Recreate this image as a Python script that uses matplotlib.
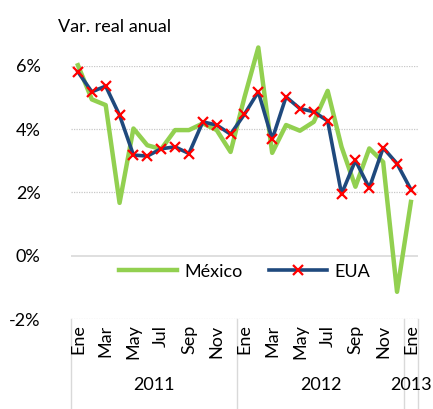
import numpy as np
import matplotlib
matplotlib.use("Agg")
import matplotlib.pyplot as plt
from matplotlib.transforms import blended_transform_factory

plt.rcParams['font.family'] = ['Lato', 'DejaVu Sans']

# Monthly data, Ene 2011 - Ene 2013 (annual real variation, %)
mexico = [6.02, 4.94, 4.76, 1.67, 4.02, 3.49, 3.37, 3.97, 3.97, 4.18, 3.97, 3.28,
          5.0, 6.58, 3.25, 4.13, 3.95, 4.23, 5.21, 3.44, 2.18, 3.39, 2.96, -1.14, 1.70]
eua = [5.81, 5.18, 5.36, 4.44, 3.18, 3.15, 3.38, 3.44, 3.23, 4.23, 4.13, 3.84,
       4.47, 5.18, 3.68, 5.02, 4.65, 4.55, 4.26, 1.95, 3.01, 2.14, 3.41, 2.91, 2.09]
month_labels = ['Ene', 'Mar', 'May', 'Jul', 'Sep', 'Nov',
                'Ene', 'Mar', 'May', 'Jul', 'Sep', 'Nov', 'Ene']
years = ['2011', '2012', '2013']
year_counts = [12, 12, 1]
yticks = [-2, 0, 2, 4, 6]

x = np.arange(len(mexico))

fig = plt.figure(figsize=(4.33, 4.09), dpi=100)
ax = fig.add_axes([0.164, 0.22, 0.801, 0.619])

ax.plot(x, mexico, color='#92D050', lw=3.2, label='México', clip_on=False, zorder=3)
ax.plot(x, eua, color='#1F497D', lw=2.6, marker='x', mec='#FF0000', mew=1.6, ms=7,
        label='EUA', clip_on=False, zorder=4)

ax.set_xlim(-0.5, len(x) - 0.5)
ax.set_ylim(-2, 6)
ax.set_yticks(yticks)
ax.set_yticklabels([f'{v}%' for v in yticks], fontsize=13)
ax.tick_params(axis='y', length=0, pad=22)
ax.set_xticks([])
for s in ax.spines.values():
    s.set_visible(False)

for v in yticks:
    if v == 0:
        ax.axhline(v, color='#d9d9d9', lw=1.2, zorder=1)
    else:
        ax.axhline(v, color='#c8c8c8', lw=0.9, ls=(0, (1, 1)), zorder=1)

# multi-level category axis
trans = blended_transform_factory(ax.transData, ax.transAxes)
for i, lab in zip(x[::2], month_labels):
    ax.text(i, -0.022, lab, transform=trans, rotation=90, ha='center', va='top', fontsize=13)

bounds = np.concatenate([[0], np.cumsum(year_counts)]) - 0.5
for b in bounds:
    ax.plot([b, b], [0, -0.5], transform=trans, color='#d9d9d9', lw=1, clip_on=False)
for k, yr in enumerate(years):
    ax.text((bounds[k] + bounds[k + 1]) / 2, -0.26, yr, transform=trans,
            ha='center', va='center', fontsize=13)

fig.text(0.134, 0.935, 'Var. real anual', fontsize=13, ha='left', va='center')

ax.legend(loc='center', bbox_to_anchor=(0.5, 0.187), ncol=2, frameon=False,
          fontsize=13, handlelength=3.2, columnspacing=1.5, handletextpad=0.4)

fig.savefig('out.png', dpi=100)
